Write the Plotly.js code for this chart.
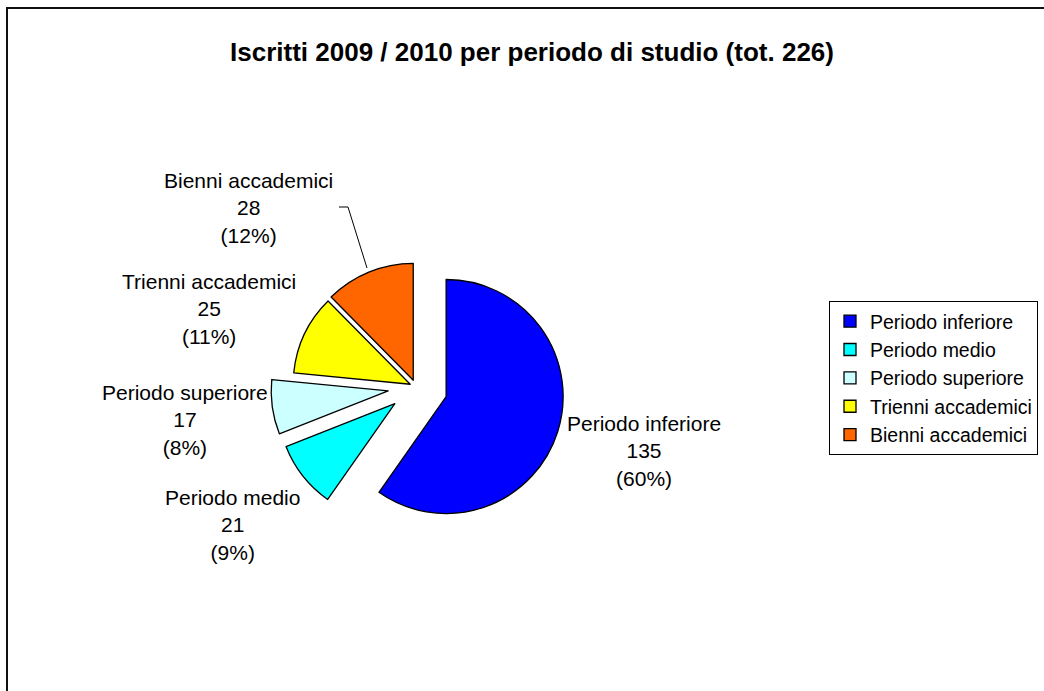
<!DOCTYPE html>
<html>
<head>
<meta charset="utf-8">
<script src="https://cdn.plot.ly/plotly-3.0.1.min.js"></script>
<style>
  html, body { margin: 0; padding: 0; background: #ffffff; }
  #chart { width: 1044px; height: 691px; }
</style>
</head>
<body>
<div id="chart"></div>
<script>
// ---- data ----
const categories = ["Periodo inferiore", "Periodo medio", "Periodo superiore", "Trienni accademici", "Bienni accademici"];
const values = [135, 21, 17, 25, 28];
const sliceColors = ["#0000FF", "#00FFFF", "#CCFFFF", "#FFFF00", "#FF6600"];
const pulls = [0.27, 0.23, 0.24, 0.055, 0.062];
const titleText = "Iscritti 2009 / 2010 per periodo di studio";

// ---- layout helpers (pixel -> paper) ----
const W = 1044, H = 691;
const px = x => x / W;
const py = y => 1 - y / H;

const total = values.reduce((a, b) => a + b, 0);
const pct = values.map(v => Math.round(100 * v / total));

// pie geometry: centre and radius in pixels
const cx = 416, cy = 387, r = 117;
const maxPull = Math.max.apply(null, pulls);
const half = r * (1 + maxPull);

const FONT = "Liberation Sans, Arial, Helvetica, sans-serif";

// label anchor (middle line centre) per category, pixels
const labelPos = [[644, 451], [232, 525], [185, 420], [209, 309], [248, 208]];

const annotations = categories.map((c, i) => ({
  xref: "paper", yref: "paper",
  x: px(labelPos[i][0]), y: py(labelPos[i][1]),
  xanchor: "center", yanchor: "middle",
  text: c + "<br>" + values[i] + "<br>(" + pct[i] + "%)",
  showarrow: false,
  align: "center",
  font: { family: FONT, size: 21, color: "#000000" }
}));

const shapes = [
  // outer chart frame
  { type: "rect", xref: "paper", yref: "paper",
    x0: px(7), y0: py(8), x1: px(1060), y1: py(710),
    line: { color: "#111111", width: 2 }, fillcolor: "rgba(0,0,0,0)", layer: "below" },
  // leader line for "Bienni accademici"
  { type: "line", xref: "paper", yref: "paper",
    x0: px(339), y0: py(207), x1: px(348), y1: py(207),
    line: { color: "#000000", width: 1 } },
  { type: "line", xref: "paper", yref: "paper",
    x0: px(348), y0: py(207), x1: px(367), y1: py(268),
    line: { color: "#000000", width: 1 } }
];

const trace = {
  type: "pie",
  labels: categories,
  values: values,
  sort: false,
  direction: "clockwise",
  rotation: 0,
  pull: pulls,
  marker: { colors: sliceColors, line: { color: "#000000", width: 1.3 } },
  textinfo: "none",
  hoverinfo: "none",
  domain: {
    x: [px(cx - half), px(cx + half)],
    y: [py(cy + half), py(cy - half)]
  }
};

const layout = {
  width: W, height: H,
  margin: { l: 0, r: 0, t: 0, b: 0, autoexpand: false },
  paper_bgcolor: "#ffffff",
  plot_bgcolor: "#ffffff",
  title: {
    text: "<b>" + titleText + " (tot. " + total + ")</b>",
    x: px(532), xanchor: "center",
    y: py(52), yanchor: "middle",
    xref: "paper", yref: "container",
    font: { family: FONT, size: 26, color: "#000000" }
  },
  showlegend: true,
  legend: {
    x: px(829), xanchor: "left",
    y: py(301), yanchor: "top",
    bordercolor: "#000000", borderwidth: 1,
    bgcolor: "#ffffff",
    font: { family: FONT, size: 19.5, color: "#000000" },
    traceorder: "normal"
  },
  annotations: annotations,
  shapes: shapes
};

Plotly.newPlot("chart", [trace], layout, { displayModeBar: false, staticPlot: true });
</script>
</body>
</html>
